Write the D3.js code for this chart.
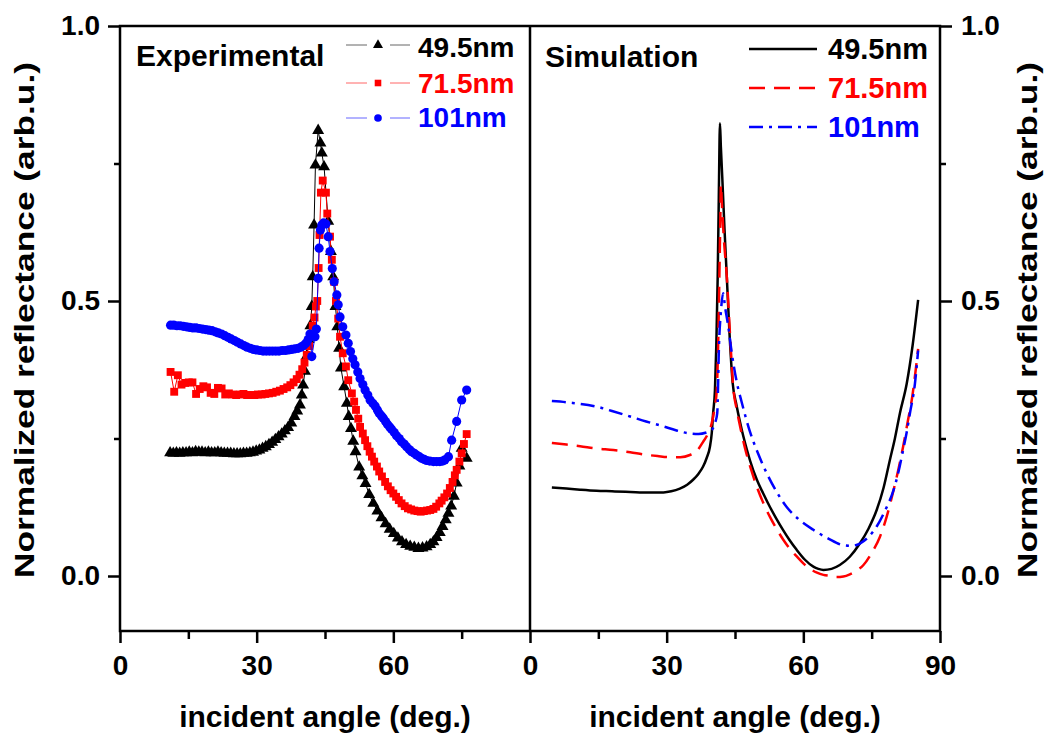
<!DOCTYPE html>
<html><head><meta charset="utf-8">
<script src="https://cdn.jsdelivr.net/npm/d3@7"></script>
<style>
html,body{margin:0;padding:0;background:#fff;}
svg text{font-family:"Liberation Sans",Arial,Helvetica,sans-serif;font-weight:bold;}
</style></head><body>
<svg id="chart" width="1044" height="737"></svg>
<script>
// ---------- data ----------
const panelTitles = ["Experimental", "Simulation"];
const seriesNames = ["49.5nm", "71.5nm", "101nm"];
const seriesColors = ["#000000", "#ff0000", "#0000ff"];
const angleTicksLeft = [0, 30, 60];
const angleTicksRight = [0, 30, 60, 90];
const angleMinor = [15, 45, 75];
const reflTicks = [0, 0.5, 1.0];
const reflMinor = [0.25, 0.75];
const xTitle = "incident angle (deg.)";
const yTitle = "Normalized reflectance (arb.u.)";

// Experimental: [angle, reflectance]
const exp495 = [[11.0,.224],[11.7,.223],[12.4,.224],[13.1,.223],[13.8,.224],[14.5,.224],[15.2,.225],[15.9,.224],[16.6,.226],[17.3,.225],[18.0,.225],[18.7,.224],[19.4,.225],[20.1,.224],[20.8,.224],[21.5,.225],[22.2,.224],[22.9,.223],[23.6,.223],[24.3,.223],[25.0,.222],[25.7,.222],[26.4,.222],[27.1,.223],[27.8,.223],[28.5,.224],[29.2,.225],[29.9,.227],[30.6,.229],[31.3,.232],[32.0,.235],[32.7,.239],[33.4,.243],[34.1,.248],[34.8,.253],[35.5,.258],[36.2,.264],[36.9,.27],[37.6,.278],[38.3,.29],[38.9,.3],[39.5,.311],[39.9,.329],[40.2,.347],[40.6,.372],[41.0,.40],[41.4,.43],[41.8,.455],[42.1,.49],[42.3,.544],[42.6,.638],[42.9,.747],[43.5,.81],[44.0,.787],[44.3,.769],[44.8,.744],[45.7,.645],[46.3,.59],[46.8,.544],[47.3,.49],[47.7,.453],[48.1,.414],[48.5,.378],[49.2,.344],[49.8,.314],[50.2,.29],[50.7,.268],[51.2,.245],[51.7,.226],[52.5,.198],[53.2,.182],[53.9,.168],[54.7,.148],[55.6,.132],[56.5,.118],[57.4,.106],[58.3,.095],[59.2,.085],[60.1,.077],[61.0,.069],[61.9,.062],[62.8,.057],[63.7,.054],[64.6,.052],[65.5,.05],[66.4,.051],[67.3,.053],[68.1,.057],[68.8,.062],[69.5,.07],[70.2,.079],[70.8,.09],[71.5,.102],[72.1,.114],[72.7,.127],[73.3,.145],[73.9,.169],[74.5,.2],[75.0,.232],[76.1,.214]];
const exp715 = [[11.1,.371],[11.9,.335],[12.7,.365],[13.5,.348],[14.3,.351],[15.1,.352],[15.9,.352],[16.7,.331],[17.5,.34],[18.3,.345],[19.1,.343],[19.9,.333],[20.7,.331],[21.5,.342],[22.3,.341],[23.1,.33],[23.9,.332],[24.7,.33],[25.5,.329],[26.3,.33],[27.1,.331],[27.9,.329],[28.7,.329],[29.5,.329],[30.3,.33],[31.1,.33],[31.9,.331],[32.7,.332],[33.5,.333],[34.3,.335],[35.1,.337],[35.9,.34],[36.7,.343],[37.4,.347],[38.1,.352],[38.8,.358],[39.4,.366],[40.0,.376],[40.5,.388],[41.0,.402],[41.5,.418],[41.9,.435],[42.3,.455],[42.7,.47],[43.0,.49],[43.3,.5],[43.6,.56],[43.8,.62],[44.1,.697],[44.5,.719],[45.2,.697],[45.5,.659],[46.1,.617],[46.5,.575],[47.0,.535],[47.4,.5],[47.9,.468],[48.3,.435],[48.9,.405],[49.6,.381],[50.1,.356],[50.9,.332],[51.4,.317],[51.8,.302],[52.3,.286],[52.7,.271],[53.3,.259],[53.8,.247],[54.3,.236],[54.8,.226],[55.3,.217],[55.8,.208],[56.4,.199],[56.9,.19],[57.5,.181],[58.2,.171],[58.8,.163],[59.4,.156],[60.0,.15],[60.6,.144],[61.2,.138],[61.8,.132],[62.5,.127],[63.2,.123],[63.9,.121],[64.6,.119],[65.3,.118],[66.0,.117],[66.7,.118],[67.4,.119],[68.1,.12],[68.8,.122],[69.4,.126],[70.1,.132],[70.6,.137],[71.2,.143],[71.8,.15],[72.4,.16],[73.0,.171],[73.5,.183],[73.9,.193],[74.5,.208],[75.0,.223],[75.5,.24],[76.1,.258]];
const exp101 = [[11.1,.456],[11.8,.456],[12.5,.455],[13.2,.455],[13.9,.454],[14.6,.453],[15.3,.452],[16.0,.451],[16.7,.451],[17.4,.45],[18.1,.449],[18.8,.448],[19.5,.447],[20.2,.446],[20.9,.444],[21.6,.442],[22.3,.44],[23.0,.437],[23.7,.434],[24.4,.431],[25.1,.428],[25.8,.425],[26.5,.422],[27.2,.419],[27.9,.416],[28.6,.414],[29.3,.412],[30.0,.411],[30.7,.41],[31.4,.409],[32.1,.409],[32.8,.409],[33.5,.409],[34.2,.409],[34.9,.409],[35.6,.41],[36.3,.41],[37.0,.411],[37.7,.412],[38.4,.413],[39.1,.414],[39.7,.416],[40.3,.419],[40.8,.423],[41.3,.43],[41.7,.44],[42.1,.399],[42.8,.435],[43.1,.449],[43.5,.541],[43.7,.596],[44.0,.629],[44.3,.638],[44.7,.642],[45.2,.64],[45.7,.617],[46.1,.59],[46.6,.559],[47.0,.535],[47.6,.511],[47.9,.493],[48.3,.471],[48.9,.453],[49.6,.438],[50.1,.423],[50.6,.408],[51.1,.395],[51.6,.384],[52.2,.371],[52.7,.359],[53.3,.348],[53.8,.338],[54.4,.329],[54.9,.32],[55.5,.314],[56.0,.309],[56.5,.302],[56.9,.296],[57.4,.291],[57.8,.287],[58.3,.281],[58.7,.276],[59.2,.271],[59.6,.267],[60.2,.261],[60.7,.255],[61.3,.25],[61.8,.244],[62.4,.24],[62.9,.235],[63.5,.23],[64.0,.226],[64.6,.223],[65.1,.22],[65.7,.217],[66.2,.214],[66.8,.212],[67.3,.21],[68.0,.209],[68.8,.208],[69.5,.208],[70.2,.208],[70.8,.209],[71.3,.211],[72.1,.217],[72.8,.247],[73.9,.281],[75.0,.32],[76.1,.338]];

// Simulation: [angle, reflectance]
const sim495 = [[4.8,.161],[8,.159],[11,.157],[14.6,.155],[18,.154],[21,.153],[24.1,.152],[27,.152],[29.3,.152],[31,.154],[32.9,.159],[34.5,.166],[35.8,.175],[37,.186],[38,.199],[38.8,.215],[39.5,.235],[39.9,.26],[40.2,.296],[40.6,.338],[40.9,.42],[41.2,.544],[41.4,.66],[41.5,.726],[41.7,.823],[41.9,.78],[42.2,.726],[42.7,.63],[43.2,.544],[43.8,.44],[44.5,.35],[45.3,.312],[46.1,.28],[46.8,.255],[47.6,.23],[48.3,.21],[49.8,.175],[51.2,.15],[52.7,.125],[54.1,.104],[55.6,.083],[57,.065],[58.5,.048],[60.3,.03],[62.2,.017],[63.3,.013],[64.4,.011],[66.2,.013],[68,.02],[70.2,.035],[72.4,.059],[74.3,.086],[76.1,.12],[77.6,.16],[79,.211],[80.1,.25],[81.2,.296],[82.7,.35],[84,.42],[85.2,.502]];
const sim715 = [[4.8,.242],[8,.239],[11,.236],[14.6,.232],[18.3,.229],[22,.225],[25,.221],[28,.218],[30.7,.216],[33,.216],[35.1,.22],[36.7,.228],[38,.244],[39,.258],[39.9,.278],[40.5,.305],[41,.338],[41.3,.42],[41.6,.56],[41.8,.66],[41.9,.711],[42.1,.68],[42.5,.62],[43.2,.544],[43.9,.44],[44.6,.344],[45.4,.302],[46.3,.265],[47.4,.226],[48.6,.192],[49.8,.162],[51.2,.133],[52.7,.107],[54.1,.086],[55.6,.066],[57,.05],[58.5,.036],[60,.023],[61.5,.013],[63,.006],[64.4,.002],[66,0],[67.3,-.002],[68.8,-.001],[70.2,.003],[71.7,.01],[73.2,.02],[75,.042],[76.8,.071],[78.3,.108],[79.8,.156],[80.9,.195],[81.9,.235],[82.9,.28],[83.8,.32],[84.6,.37],[85.2,.413]];
const sim101 = [[4.8,.318],[9,.315],[14.6,.308],[18,.3],[22,.29],[25.5,.281],[29.3,.272],[32,.265],[35.1,.259],[37,.258],[38.8,.261],[39.7,.264],[40.2,.269],[40.7,.28],[41.1,.296],[41.5,.423],[41.9,.48],[42.4,.514],[42.8,.49],[43.5,.455],[44.3,.405],[45.4,.352],[46.5,.315],[48.3,.262],[50,.224],[51.9,.188],[54,.155],[56.3,.126],[59,.103],[62.2,.084],[65.5,.068],[68.8,.056],[70.5,.055],[72.4,.059],[74.3,.071],[76.1,.09],[78,.12],[79.8,.156],[80.9,.19],[81.9,.229],[82.7,.262],[83.4,.296],[84.5,.35],[85.2,.41]];

const expSeries = [exp495, exp715, exp101];
const simSeries = [sim495, sim715, sim101];
const expSymbols = [d3.symbolTriangle, d3.symbolSquare, d3.symbolCircle];
const expSymbolSizes = [62, 62, 66];
const simDash = [null, "16,9", "14,6,3,6"];

// ---------- layout ----------
const svg = d3.select("#chart");
const xL = d3.scaleLinear().domain([0, 90]).range([120, 530]);
const xR = d3.scaleLinear().domain([0, 90]).range([530, 940]);
const y = d3.scaleLinear().domain([-0.1, 1.0]).range([631, 26]);
const AX = 2.5;

function styleAxis(g) {
  g.select(".domain").remove();
  g.selectAll(".tick line").attr("stroke", "#000").attr("stroke-width", AX);
  g.selectAll(".tick text").attr("fill", "#000").style("font-size", "28px")
    .style("font-family", '"Liberation Sans",Arial,sans-serif').style("font-weight", "bold");
}

// bottom axes
svg.append("g").attr("transform", "translate(0,631)")
  .call(d3.axisBottom(xL).tickValues(angleTicksLeft).tickSize(12).tickPadding(12).tickFormat(d3.format("d"))).call(styleAxis);
svg.append("g").attr("transform", "translate(0,631)")
  .call(d3.axisBottom(xL).tickValues(angleMinor).tickSize(8).tickFormat("")).call(styleAxis);
svg.append("g").attr("transform", "translate(0,631)")
  .call(d3.axisBottom(xR).tickValues(angleTicksRight).tickSize(12).tickPadding(12).tickFormat(d3.format("d"))).call(styleAxis);
svg.append("g").attr("transform", "translate(0,631)")
  .call(d3.axisBottom(xR).tickValues(angleMinor).tickSize(8).tickFormat("")).call(styleAxis);

// y axes
svg.append("g").attr("transform", "translate(120,0)")
  .call(d3.axisLeft(y).tickValues(reflTicks).tickSize(12).tickPadding(8).tickFormat(d3.format(".1f"))).call(styleAxis);
svg.append("g").attr("transform", "translate(120,0)")
  .call(d3.axisLeft(y).tickValues(reflMinor).tickSize(6).tickFormat("")).call(styleAxis);
svg.append("g").attr("transform", "translate(940,0)")
  .call(d3.axisRight(y).tickValues(reflTicks).tickSize(12).tickPadding(9).tickFormat(d3.format(".1f"))).call(styleAxis);
svg.append("g").attr("transform", "translate(940,0)")
  .call(d3.axisRight(y).tickValues(reflMinor).tickSize(6).tickFormat("")).call(styleAxis);

// frame
svg.append("rect").attr("x", 120).attr("y", 26).attr("width", 820).attr("height", 605)
  .attr("fill", "none").attr("stroke", "#000").attr("stroke-width", AX);
svg.append("line").attr("x1", xL(90)).attr("x2", xL(90)).attr("y1", 26).attr("y2", 631)
  .attr("stroke", "#000").attr("stroke-width", AX);

// experimental series
expSeries.forEach((data, i) => {
  const g = svg.append("g");
  g.append("path").datum(data)
    .attr("d", d3.line().x(d => xL(d[0])).y(d => y(d[1])))
    .attr("fill", "none").attr("stroke", seriesColors[i]).attr("stroke-width", 1);
  g.selectAll("path.m").data(data).join("path").attr("class", "m")
    .attr("transform", d => `translate(${xL(d[0])},${y(d[1])})`)
    .attr("d", d3.symbol().type(expSymbols[i]).size(expSymbolSizes[i]))
    .attr("fill", seriesColors[i]);
});

// simulation series
simSeries.forEach((data, i) => {
  svg.append("path").datum(data)
    .attr("d", d3.line().x(d => xR(d[0])).y(d => y(d[1])).curve(d3.curveMonotoneX))
    .attr("fill", "none").attr("stroke", seriesColors[i]).attr("stroke-width", 2.5)
    .attr("stroke-dasharray", simDash[i]);
});

// panel titles
svg.append("text").attr("x", 136).attr("y", 66).style("font-size", "30px").attr("fill", "#000").text(panelTitles[0]);
svg.append("text").attr("x", 545).attr("y", 67).style("font-size", "30px").attr("fill", "#000").text(panelTitles[1]);

// left legend
const legLY = [45, 83, 118];
const legLText = [57, 93, 127];
seriesNames.forEach((name, i) => {
  const g = svg.append("g");
  g.append("line").attr("x1", 346).attr("x2", 367).attr("y1", legLY[i]).attr("y2", legLY[i])
    .attr("stroke", seriesColors[i]).attr("stroke-width", 1).attr("stroke-opacity", 0.6);
  g.append("line").attr("x1", 390).attr("x2", 410).attr("y1", legLY[i]).attr("y2", legLY[i])
    .attr("stroke", seriesColors[i]).attr("stroke-width", 1).attr("stroke-opacity", 0.6);
  g.append("path").attr("transform", `translate(378,${legLY[i]})`)
    .attr("d", d3.symbol().type(expSymbols[i]).size(expSymbolSizes[i] * 0.7)).attr("fill", seriesColors[i]);
  g.append("text").attr("x", 418).attr("y", legLText[i]).style("font-size", "28px")
    .attr("fill", seriesColors[i]).text(name);
});

// right legend
const legRY = [49, 88, 127];
const legRText = [59, 98, 137];
seriesNames.forEach((name, i) => {
  svg.append("line").attr("x1", 749).attr("x2", 817).attr("y1", legRY[i]).attr("y2", legRY[i])
    .attr("stroke", seriesColors[i]).attr("stroke-width", 2.5).attr("stroke-dasharray", simDash[i]);
  svg.append("text").attr("x", 828).attr("y", legRText[i]).style("font-size", "29px")
    .attr("fill", seriesColors[i]).text(name);
});

// axis titles
[325, 735].forEach(cx => {
  svg.append("text").attr("x", cx).attr("y", 727).attr("text-anchor", "middle")
    .style("font-size", "30px").attr("fill", "#000").text(xTitle);
});
[[34, 578], [1037, 578]].forEach(([tx, ty]) => {
  svg.append("text").attr("transform", `translate(${tx},${ty}) rotate(-90)`)
    .attr("text-anchor", "start").style("font-size", "28px").attr("fill", "#000")
    .attr("textLength", 516).attr("lengthAdjust", "spacingAndGlyphs").text(yTitle);
});
</script>
</body></html>
